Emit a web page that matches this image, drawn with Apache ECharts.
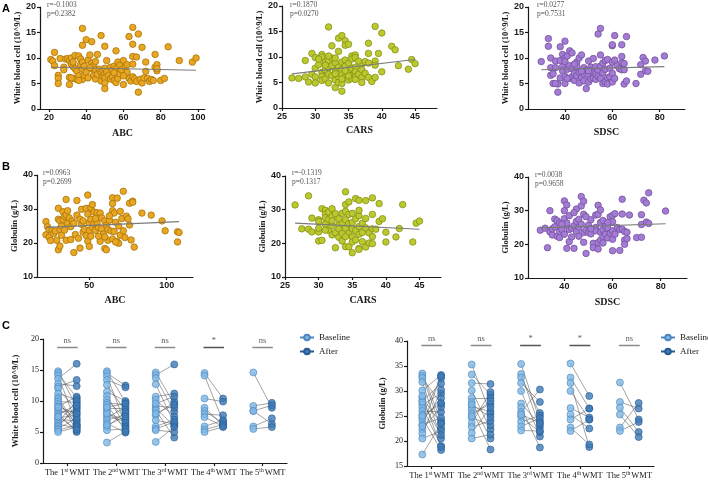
<!DOCTYPE html>
<html><head><meta charset="utf-8">
<script src="https://cdn.jsdelivr.net/npm/echarts@6/dist/echarts.min.js"></script>
<style>html,body{margin:0;padding:0;background:#fff}#c{width:708px;height:481px}</style>
</head><body><div id="c"></div>
<script>
// ---------- DATA ----------
const wbcVsABC = [[21,9.7],[22,9.4],[23,11.1],[23,8.5],[25,6.6],[25,6.0],[25,5.0],[26,9.9],[28,8.2],[28,7.7],[29,9.8],[30,9.9],[31,9.5],[31,6.2],[31,4.8],[32,10.0],[32,8.8],[33,8.3],[33,6.0],[34,7.9],[34,10.5],[35,7.4],[35,5.8],[36,10.4],[36,6.5],[37,9.8],[37,8.7],[38,15.8],[38,12.5],[38,9.2],[38,7.8],[38,5.8],[39,8.4],[39,6.6],[40,13.6],[40,7.2],[41,9.6],[41,6.1],[42,10.6],[43,13.2],[43,9.0],[43,7.9],[44,8.5],[44,6.6],[45,7.7],[45,5.9],[46,10.7],[46,6.8],[47,7.8],[48,14.4],[48,7.2],[48,5.5],[49,6.4],[49,7.5],[50,12.3],[50,8.0],[50,6.9],[50,6.1],[50,5.1],[50,4.0],[51,9.5],[51,7.3],[52,6.6],[53,8.2],[53,5.9],[54,7.6],[54,6.3],[55,8.4],[55,5.6],[56,11.4],[56,7.9],[56,5.2],[57,9.2],[57,7.0],[57,6.0],[58,8.6],[58,6.9],[59,7.7],[60,9.5],[60,4.8],[61,8.3],[62,8.7],[62,7.2],[63,14.2],[63,6.0],[64,5.5],[65,16.0],[65,12.7],[65,10.3],[65,8.8],[65,6.3],[66,5.9],[67,10.2],[67,5.4],[68,3.3],[68,14.7],[69,5.8],[70,12.1],[70,5.1],[71,6.1],[72,9.2],[72,7.4],[73,6.0],[74,5.4],[75,5.8],[76,5.6],[77,10.7],[77,8.2],[78,8.7],[78,7.5],[78,7.9],[80,5.6],[82,6.0],[84,12.2],[90,9.5],[97,9.2],[99,10.0],[60,6.5],[55,7.1],[45,9.3],[42,8.1],[36,5.6],[32,6.1],[33,9.2]];
const wbcVsCARS = [[26.5,5.9],[27.5,5.8],[28.5,9.3],[28.5,6.1],[29,5.1],[29.5,10.7],[29.5,6.6],[30,9.9],[30,7.8],[30,6.1],[30,4.9],[30.5,8.5],[31,10.5],[31,10.0],[31,7.0],[31,6.2],[31,5.4],[31.5,9.0],[31.5,7.5],[31.5,5.7],[32,15.9],[32,9.3],[32,7.9],[32,6.6],[32,4.9],[32.5,12.2],[32.5,9.8],[32.5,8.3],[32.5,6.3],[33,8.9],[33,7.2],[33,5.5],[33,4.0],[33.5,11.1],[33.5,13.7],[33.5,8.0],[33.5,6.1],[33.5,5.0],[34,14.2],[34,9.0],[34,7.5],[34,6.5],[34,3.3],[34,4.8],[34.5,13.2],[34.5,12.3],[34.5,9.4],[34.5,8.2],[34.5,6.0],[35,12.5],[35,8.8],[35,7.0],[35,5.5],[35.5,10.2],[35.5,9.6],[35.5,7.8],[35.5,6.4],[35.5,5.8],[36,10.4],[36,9.9],[36,8.0],[36,7.1],[36,6.1],[36.5,6.6],[37,8.6],[37,7.5],[37,6.0],[37,5.0],[37.5,9.1],[37.5,6.8],[38,12.7],[38,10.7],[38,8.8],[38,6.0],[38.5,5.2],[39,16.0],[39,9.2],[39,8.4],[39,6.0],[39.5,10.7],[40,14.7],[40,7.1],[41.5,12.1],[42,11.4],[42.5,8.3],[44,7.6],[44.5,9.5],[45,8.7],[33,6.7],[34,5.7],[35,6.3],[36,5.6],[31.5,8.4],[30.5,9.6],[32,10.2],[33,9.8],[34.5,7.3],[36.5,9.2]];
const wbcVsSDSC = [[30,9.3],[33,13.8],[33,12.3],[34,10.0],[34,8.1],[34,6.6],[35,5.0],[35,6.9],[36,8.1],[36,9.4],[37,4.9],[37,3.3],[38,12.2],[38,6.1],[38,9.5],[39,10.7],[39,8.3],[39,7.5],[40,13.3],[40,10.0],[40,9.3],[40,6.4],[40,5.0],[41,7.8],[41,10.4],[42,11.4],[42,8.5],[42,6.0],[43,11.0],[43,7.9],[43,6.3],[44,7.0],[44,5.6],[45,9.2],[45,8.3],[45,6.5],[46,10.0],[46,7.2],[46,5.1],[47,10.6],[47,6.2],[48,8.1],[48,6.9],[48,5.5],[49,7.6],[49,4.0],[50,9.4],[50,6.6],[50,5.3],[51,8.2],[51,7.5],[51,5.9],[52,7.2],[52,6.1],[53,8.3],[53,6.9],[53,5.8],[54,14.7],[54,7.6],[54,6.4],[55,15.8],[55,10.6],[55,8.4],[55,6.0],[56,7.1],[56,5.0],[56,9.0],[57,9.5],[57,7.8],[57,5.3],[58,9.7],[58,6.1],[58,4.9],[59,8.0],[59,6.3],[60,12.4],[60,12.6],[60,9.2],[60,5.3],[60,7.0],[61,14.4],[61,9.6],[61,6.0],[62,8.5],[63,7.9],[64,12.6],[64,10.3],[64,9.1],[64,7.7],[65,8.9],[65,7.7],[65,4.9],[66,14.2],[66,5.5],[70,5.0],[72,8.7],[72,6.8],[73,10.1],[74,9.4],[74,7.5],[75,7.4],[78,9.6],[82,10.4],[44,8.8],[47,7.4],[50,7.5],[52,9.9],[36,5.0],[41,6.0]];
const gloVsABC = [[22,26.3],[22,22.4],[23,24.8],[24,24.0],[24,21.7],[25,20.7],[26,23.7],[27,22.8],[28,23.5],[29,20.8],[30,30.2],[30,27.0],[30,18.0],[31,19.1],[31,24.0],[31,26.6],[32,25.0],[32,22.3],[33,29.2],[33,26.9],[34,27.8],[34,23.8],[35,32.8],[35,20.8],[35,28.3],[36,25.8],[36,29.5],[37,27.4],[38,24.8],[38,21.0],[39,26.5],[40,17.2],[40,25.8],[41,22.5],[42,32.5],[42,28.2],[43,21.4],[44,18.5],[45,29.9],[45,25.5],[46,23.2],[47,24.0],[48,30.2],[48,22.2],[49,34.1],[49,28.5],[49,20.5],[50,26.0],[50,23.7],[50,19.0],[51,30.3],[51,27.0],[51,22.0],[52,31.3],[52,24.6],[53,29.1],[53,25.7],[54,23.7],[55,28.9],[55,26.0],[56,24.5],[57,28.8],[57,20.5],[58,27.4],[58,24.2],[59,22.6],[60,26.5],[60,18.4],[61,18.0],[61,25.2],[62,24.0],[62,20.8],[63,26.7],[64,23.5],[65,33.3],[65,31.6],[65,29.5],[65,21.2],[66,28.8],[66,23.4],[67,26.1],[68,33.2],[68,20.4],[69,19.9],[69,25.0],[70,29.3],[70,22.3],[71,27.2],[72,35.2],[72,23.6],[73,21.6],[74,27.9],[75,27.1],[76,31.7],[76,25.3],[77,20.9],[78,32.3],[78,32.0],[79,18.8],[84,28.8],[90,28.2],[97,26.5],[99,23.6],[107,23.3],[107,20.3],[108,23.1],[44,27.0],[46,26.5],[54,27.2],[56,22.0],[60,21.8],[63,28.0],[67,20.3]];
const gloVsCARS = [[26.5,31.4],[27.5,24.3],[28.5,34.1],[28.5,24.2],[29,27.5],[29,23.4],[30,27.0],[30,26.5],[30,23.4],[30,24.5],[30,20.7],[30.5,20.9],[30.5,30.3],[31,29.8],[31,28.7],[31,27.6],[31,25.7],[31.5,29.3],[31.5,27.1],[31.5,23.9],[32,30.3],[32,28.0],[32,25.2],[32,22.5],[32.5,18.7],[32.5,28.8],[32.5,23.2],[33,25.5],[33,21.8],[33,24.3],[33.5,28.9],[33.5,26.0],[33.5,22.9],[33.5,20.7],[34,35.3],[34,31.5],[34,29.5],[34,27.0],[34,24.5],[34,19.0],[34.5,32.3],[34.5,28.6],[34.5,25.8],[34.5,23.0],[34.5,19.0],[35,26.2],[35,24.3],[35,21.9],[35,17.2],[35,20.4],[35.5,33.3],[35.5,27.3],[35.5,23.8],[35.5,21.0],[36,32.8],[36,28.2],[36,25.0],[36,22.7],[36,18.5],[36,18.2],[36.5,26.0],[36.5,23.2],[36.5,20.5],[37,32.7],[37,27.4],[37,24.6],[37,18.9],[37.5,23.1],[37.5,20.1],[38,33.5],[38,28.6],[38,24.3],[38,22.0],[38,19.9],[38.5,24.2],[39,31.8],[39,26.5],[39.5,27.3],[40,23.3],[40,20.4],[41.5,21.9],[42,24.4],[42.5,31.5],[44,20.4],[44.5,26.0],[45,26.6],[33,27.3],[35,28.9],[36,29.8],[32,26.7],[34,22.0],[31,23.9]];
const gloVsSDSC = [[30,24.2],[32,24.8],[33,19.0],[34,23.7],[34,30.0],[35,22.8],[35,24.6],[36,27.5],[36,25.2],[37,22.4],[37,27.0],[38,23.8],[38,22.0],[38,26.3],[39,24.4],[40,32.9],[40,30.0],[40,27.6],[40,25.8],[40,23.0],[41,31.7],[41,18.8],[41,26.3],[42,28.5],[42,24.4],[42,20.8],[43,24.8],[43,22.2],[44,25.5],[44,18.8],[45,30.5],[45,26.8],[45,23.8],[46,27.4],[46,25.1],[47,34.2],[47,31.4],[47,26.0],[48,32.8],[48,28.9],[48,23.5],[48,20.6],[49,17.3],[49,28.2],[49,24.2],[50,25.7],[50,23.5],[51,27.3],[51,23.1],[52,20.3],[52,19.0],[53,28.7],[53,25.0],[53,24.0],[54,31.6],[54,28.9],[54,20.5],[54,18.6],[55,30.2],[55,26.5],[55,23.6],[55,21.2],[56,27.1],[56,24.4],[56,22.3],[56,20.4],[57,25.4],[57,23.0],[58,24.8],[58,21.9],[59,28.2],[59,23.3],[60,28.6],[60,26.7],[60,24.0],[60,18.1],[60,21.5],[61,29.1],[61,23.0],[62,25.0],[63,24.4],[63,18.2],[64,33.4],[64,29.0],[64,24.5],[65,23.8],[65,21.3],[65,20.0],[66,23.6],[66,21.7],[67,28.7],[70,22.0],[72,28.8],[72,25.9],[72,22.1],[73,33.1],[74,32.3],[74,26.6],[75,35.3],[75,26.2],[82,29.9],[46,22.4],[51,24.6],[58,26.5],[44,29.4],[39,26.0]];

// regression line end points
const fitWbcABC = [[21,8.2],[99,7.6]];
const fitWbcCARS = [[26.5,6.7],[45,9.5]];
const fitWbcSDSC = [[30,7.7],[82,8.3]];
const fitGloABC = [[22,24.6],[108,26.3]];
const fitGloCARS = [[26.5,26.0],[45,24.2]];
const fitGloSDSC = [[30,24.9],[82,26.1]];

const statTexts = [['r=-0.1003','p=0.2382'],['r=0.1870','p=0.0270'],['r=0.0277','p=0.7531'],
                   ['r=0.0963','p=0.2699'],['r=-0.1319','p=0.1317'],['r=0.0038','p=0.9658']];

const ticksABC_A = [20,40,60,80,100];
const ticksCARS = [25,30,35,40,45];
const ticksSDSC = [40,60,80];
const ticksABC_B = [50,100];

const wmtNum = ['1','2','3','4','5'];
const wmtSup = ['st','nd','rd','th','th'];
const wmtTicks = [0.5,1.5,2.5,3.5,4.5];

const wbcBaseline = [
  [14.8,14.5,14.1,13.6,12.8,12.3,12.0,11.2,10.6,10.3,9.9,9.5,9.1,8.8,8.4,8.0,7.7,7.3,7.0,6.6,6.3,6.0,5.8,5.5,5.3,5.0,9.0,7.5],
  [14.8,14.5,14.0,13.4,12.6,11.5,10.8,10.2,9.7,9.4,8.8,8.3,7.7,7.3,6.9,6.4,5.8,5.3,3.3,8.0,9.0,6.1],
  [14.6,14.2,13.7,12.7,10.7,10.2,9.2,8.8,8.5,7.7,6.9,5.9,5.5,5.3,3.4,8.0,9.6],
  [14.5,14.1,10.4,8.9,8.4,7.9,7.4,5.9,5.4,5.0],
  [14.6,9.2,8.4,5.9,5.5,8.4]
];
const wbcAfter = [
  [9.0,10.5,6.2,16.0,12.4,13.4,8.5,10.2,6.0,5.2,9.8,7.0,10.7,6.5,8.2,5.0,9.5,7.7,6.8,10.0,5.6,8.8,9.3,7.3,6.1,5.8,8.0,5.4],
  [9.8,12.5,6.3,12.2,8.4,10.0,6.0,7.2,9.4,5.2,8.8,5.8,6.6,9.0,7.8,4.9,8.2,5.5,5.1,6.9,9.6,7.5],
  [9.5,15.9,8.3,6.4,11.2,7.5,8.9,6.0,4.1,9.9,6.3,7.0,6.6,5.0,5.8,9.4,10.7],
  [10.4,6.7,9.9,6.1,6.4,7.7,5.9,6.9,6.2,5.8],
  [8.9,9.7,6.3,7.2,5.8,9.3]
];
const gloBaseline = [
  [33.5,33.0,32.6,31.8,30.1,28.6,28.0,27.3,26.7,26.0,25.3,24.6,24.1,23.3,22.3,21.5,20.5,17.3,25.0,27.8,23.0,29.0],
  [35.3,33.3,31.6,30.1,28.6,27.8,26.9,26.3,25.5,24.7,23.6,22.8,21.6,20.5,27.3,25.0],
  [35.4,33.4,32.7,31.6,30.0,27.5,26.7,25.8,24.8,23.8,22.9,22.1,25.3],
  [35.5,32.7,31.6,30.0,26.6,25.3,24.3,22.7,22.0],
  [31.7,27.8,26.7,25.3,22.7,22.0]
];
const gloAfter = [
  [24.0,22.6,27.4,20.5,33.2,23.5,31.5,29.5,19.0,25.8,32.6,18.2,28.6,24.6,26.8,30.2,22.0,23.5,27.6,21.2,33.0,18.8],
  [25.4,29.3,31.4,22.3,28.6,20.5,25.9,18.3,27.4,23.1,29.8,24.0,26.7,21.3,24.7,28.0],
  [24.0,22.7,25.6,27.8,20.9,23.3,18.7,30.3,21.8,25.1,24.6,22.0,23.6],
  [29.0,26.5,18.8,24.3,24.7,22.5,26.5,19.3,24.3],
  [24.3,26.5,21.8,20.8,27.6,23.8]
];
const sigWbc = ['ns','ns','ns','*','ns'];
const sigGlo = ['ns','ns','*','*','ns'];

// ---------- STYLE ----------
const SANS = 'Liberation Sans, Arial, sans-serif';
const SERIF = 'Liberation Serif, Times New Roman, serif';
const INK = '#1a1a1a';
const COL = {
  orange: ['#E8A623', '#A87508'],
  green: ['#BCC92C', '#84901A'],
  purple: ['#A57CD4', '#72509F'],
  base: ['#7FB7E3', '#4C87BF'],
  after: ['#3F7BB7', '#285C92']
};

const chart = echarts.init(document.getElementById('c'), null, {renderer: 'canvas'});

const grids = [
  {left: 40, top: 7, width: 165, height: 102},
  {left: 282, top: 6, width: 155, height: 102},
  {left: 528, top: 7, width: 157, height: 102},
  {left: 37, top: 175, width: 156, height: 102},
  {left: 285, top: 176, width: 156, height: 101},
  {left: 528, top: 177, width: 159, height: 101},
  {left: 43, top: 339, width: 244, height: 124},
  {left: 407, top: 341, width: 247, height: 125}
];

function xAx(gi, min, max, ticks, name, gap) {
  return {
    type: 'value', gridIndex: gi, min: min, max: max, name: name,
    nameLocation: 'middle', nameGap: gap,
    nameTextStyle: {fontFamily: SERIF, fontWeight: 'bold', fontSize: 10, color: INK},
    axisLine: {show: true, onZero: false, lineStyle: {color: INK, width: 1.2}},
    axisTick: {show: true, length: 3, customValues: ticks, lineStyle: {color: INK, width: 1.2}},
    axisLabel: {customValues: ticks, fontFamily: SANS, fontWeight: 'bold', fontSize: 9, color: INK, margin: 4},
    splitLine: {show: false}
  };
}
function yAx(gi, min, max, interval, name, gap, serifLabels) {
  return {
    type: 'value', gridIndex: gi, min: min, max: max, interval: interval, name: name,
    nameLocation: 'middle', nameGap: gap, nameRotate: 90,
    nameTextStyle: {fontFamily: SERIF, fontWeight: 'bold', fontSize: 8.5, color: INK},
    axisLine: {show: true, onZero: false, lineStyle: {color: INK, width: 1.2}},
    axisTick: {show: true, length: 3, lineStyle: {color: INK, width: 1.2}},
    axisLabel: serifLabels
      ? {fontFamily: SERIF, fontSize: 8, color: INK, margin: 4}
      : {fontFamily: SANS, fontWeight: 'bold', fontSize: 9, color: INK, margin: 4},
    splitLine: {show: false}
  };
}
function wmtX(gi) {
  return {
    type: 'value', gridIndex: gi, min: 0, max: 5,
    axisLine: {show: true, onZero: false, lineStyle: {color: INK, width: 1.2}},
    axisTick: {show: true, length: 3, customValues: wmtTicks, lineStyle: {color: INK, width: 1.2}},
    axisLabel: {
      customValues: wmtTicks, margin: 5,
      formatter: function (v) {
        const i = Math.round(v - 0.5);
        return '{n|The ' + wmtNum[i] + '}{s|' + wmtSup[i] + '}{n|WMT}';
      },
      rich: {
        n: {fontFamily: SERIF, fontSize: 8.5, color: INK},
        s: {fontFamily: SERIF, fontSize: 5.5, color: INK, verticalAlign: 'top', padding: [0, 1, 4, 0]}
      }
    },
    splitLine: {show: false}
  };
}

const xAxes = [
  xAx(0, 15.2, 103.8, ticksABC_A, 'ABC', 19),
  xAx(1, 25, 48.3, ticksCARS, 'CARS', 17),
  xAx(2, 24.4, 90.7, ticksSDSC, 'SDSC', 18),
  xAx(3, 16.2, 117, ticksABC_B, 'ABC', 18),
  xAx(4, 25, 48.2, ticksCARS, 'CARS', 18),
  xAx(5, 24.9, 90.9, ticksSDSC, 'SDSC', 19),
  wmtX(6), wmtX(7)
];
const WBC = 'White blood cell (10^9/L)';
const GLO = 'Globulin (g/L)';
const yAxes = [
  yAx(0, 0, 20, 5, WBC, 18), yAx(1, 0, 20, 5, WBC, 14), yAx(2, 0, 20, 5, WBC, 16),
  yAx(3, 10, 40, 10, GLO, 17), yAx(4, 10, 40, 10, GLO, 15), yAx(5, 10, 40, 10, GLO, 18),
  yAx(6, 0, 20, 5, WBC, 23, true), yAx(7, 15, 40, 5, GLO, 20, true)
];

const series = [];
function scat(gi, data, col) {
  series.push({type: 'scatter', xAxisIndex: gi, yAxisIndex: gi, data: data, symbolSize: 6.5,
    itemStyle: {color: col[0], borderColor: col[1], borderWidth: 0.8, opacity: 1}, z: 3});
}
function fit(gi, data) {
  series.push({type: 'line', xAxisIndex: gi, yAxisIndex: gi, data: data, symbol: 'none',
    lineStyle: {color: '#7a7a7a', width: 1.1}, z: 4, silent: true});
}
scat(0, wbcVsABC, COL.orange); fit(0, fitWbcABC);
scat(1, wbcVsCARS, COL.green); fit(1, fitWbcCARS);
scat(2, wbcVsSDSC, COL.purple); fit(2, fitWbcSDSC);
scat(3, gloVsABC, COL.orange); fit(3, fitGloABC);
scat(4, gloVsCARS, COL.green); fit(4, fitGloCARS);
scat(5, gloVsSDSC, COL.purple); fit(5, fitGloSDSC);

const OFF = 0.19;
function paired(gi, baseArr, afterArr, sig, sigY, sigW) {
  const links = [], bpts = [], apts = [], bars = [], marks = [];
  baseArr.forEach(function (grp, i) {
    const c = i + 0.5;
    grp.forEach(function (b, j) {
      const a = afterArr[i][j];
      bpts.push([c - OFF, b]);
      apts.push([c + OFF, a]);
      links.push({coords: [[c - OFF, b], [c + OFF, a]]});
    });
    bars.push({coords: [[c - sigW, sigY], [c + sigW, sigY]],
      lineStyle: {color: sig[i] === '*' ? '#555' : '#8a8a8a'}});
    marks.push({value: [c, sigY], label: {formatter: sig[i]}});
  });
  series.push({type: 'lines', coordinateSystem: 'cartesian2d', xAxisIndex: gi, yAxisIndex: gi,
    data: links, lineStyle: {color: '#555', width: 0.6, opacity: 0.9}, z: 2, silent: true});
  series.push({type: 'scatter', xAxisIndex: gi, yAxisIndex: gi, data: bpts, symbolSize: 7,
    itemStyle: {color: COL.base[0], borderColor: COL.base[1], borderWidth: 0.8}, z: 3});
  series.push({type: 'scatter', xAxisIndex: gi, yAxisIndex: gi, data: apts, symbolSize: 7,
    itemStyle: {color: COL.after[0], borderColor: COL.after[1], borderWidth: 0.8}, z: 3});
  series.push({type: 'lines', coordinateSystem: 'cartesian2d', xAxisIndex: gi, yAxisIndex: gi,
    data: bars, lineStyle: {width: 1.4, opacity: 1}, z: 2, silent: true});
  series.push({type: 'scatter', xAxisIndex: gi, yAxisIndex: gi, data: marks, symbolSize: 0,
    label: {show: true, position: 'top', distance: 2, fontFamily: SERIF, fontSize: 8.5, color: '#333'},
    silent: true, z: 5});
}
paired(6, wbcBaseline, wbcAfter, sigWbc, 18.7, 0.21);
paired(7, gloBaseline, gloAfter, sigGlo, 39.1, 0.21);

// legend-only series
series.push({type: 'line', name: 'Baseline', data: [], xAxisIndex: 6, yAxisIndex: 6, symbol: 'circle', symbolSize: 7,
  itemStyle: {color: COL.base[0], borderColor: COL.base[1], borderWidth: 0.8}, lineStyle: {color: COL.base[1], width: 1}});
series.push({type: 'line', name: 'After', data: [], xAxisIndex: 6, yAxisIndex: 6, symbol: 'circle', symbolSize: 7,
  itemStyle: {color: COL.after[0], borderColor: COL.after[1], borderWidth: 0.8}, lineStyle: {color: COL.after[1], width: 1}});

function legendAt(left) {
  return {data: ['Baseline', 'After'], orient: 'vertical', left: left, top: 328, itemGap: 5,
    itemWidth: 14, itemHeight: 7, selectedMode: false,
    textStyle: {fontFamily: SERIF, fontSize: 9, color: INK, padding: [0, 0, 0, 0]}};
}

// text annotations
const statPos = [[47, 1], [290, 1], [537, 1], [43, 169], [292, 169], [535, 171]];
const graphics = [];
statTexts.forEach(function (t, i) {
  graphics.push({type: 'text', left: statPos[i][0], top: statPos[i][1],
    style: {text: t[0] + '\n' + t[1], font: '7.5px ' + SERIF, fill: '#555', lineHeight: 8.5}});
});
[['A', 2, 3], ['B', 2, 161], ['C', 2, 320]].forEach(function (p) {
  graphics.push({type: 'text', left: p[1], top: p[2],
    style: {text: p[0], font: 'bold 11px ' + SANS, fill: '#000'}});
});

chart.setOption({
  backgroundColor: '#fff',
  animation: false,
  grid: grids,
  xAxis: xAxes,
  yAxis: yAxes,
  legend: [legendAt(294), legendAt(655)],
  graphic: graphics,
  series: series
});
</script></body></html>
